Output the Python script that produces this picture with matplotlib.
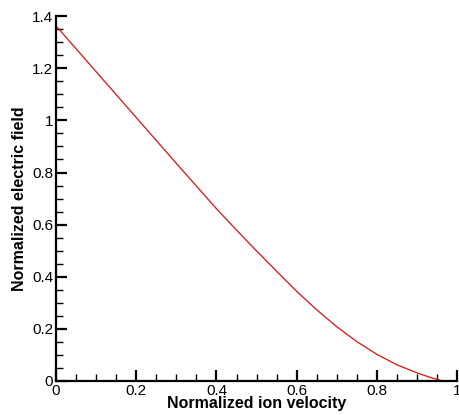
import matplotlib
matplotlib.use("Agg")
import matplotlib.pyplot as plt
from matplotlib.ticker import MultipleLocator, FuncFormatter

ion_velocity = [0.0, 0.05, 0.1, 0.15, 0.2, 0.25, 0.3, 0.35, 0.4, 0.45, 0.5, 0.55, 0.6,
                0.65, 0.7, 0.75, 0.8, 0.85, 0.9, 0.93, 0.95, 0.965]
electric_field = [1.363, 1.275, 1.187, 1.099, 1.011, 0.923, 0.835, 0.748, 0.661, 0.579, 0.499,
                  0.421, 0.344, 0.273, 0.208, 0.151, 0.102, 0.062, 0.031, 0.015, 0.006, 0.0]

plt.rcParams['font.family'] = ['Liberation Sans', 'DejaVu Sans']

fig = plt.figure(figsize=(4.59, 4.15), dpi=100)
ax = fig.add_axes([0.122, 0.082, 0.874, 0.879])

ax.plot(ion_velocity, electric_field, color='#e01010', linewidth=0.9)

ax.set_xlim(0, 1)
ax.set_ylim(0, 1.4)
ax.spines['top'].set_visible(False)
ax.spines['right'].set_visible(False)
for s in ('left', 'bottom'):
    ax.spines[s].set_linewidth(1.6)

ax.xaxis.set_major_locator(MultipleLocator(0.2))
ax.xaxis.set_minor_locator(MultipleLocator(0.05))
ax.yaxis.set_major_locator(MultipleLocator(0.2))
ax.yaxis.set_minor_locator(MultipleLocator(0.05))
fmt = FuncFormatter(lambda v, p: f"{v:g}")
ax.xaxis.set_major_formatter(fmt)
ax.yaxis.set_major_formatter(fmt)

ax.tick_params(which='major', direction='in', length=8, width=1.6, labelsize=11, pad=2)
ax.tick_params(which='minor', direction='in', length=5, width=1.0)
ax.tick_params(top=False, right=False)

ax.set_xlabel('Normalized ion velocity', fontsize=11.5, fontweight='bold', labelpad=-1)
ax.set_ylabel('Normalized electric field', fontsize=11.5, fontweight='bold', labelpad=4)

fig.savefig('out.png', dpi=100)
